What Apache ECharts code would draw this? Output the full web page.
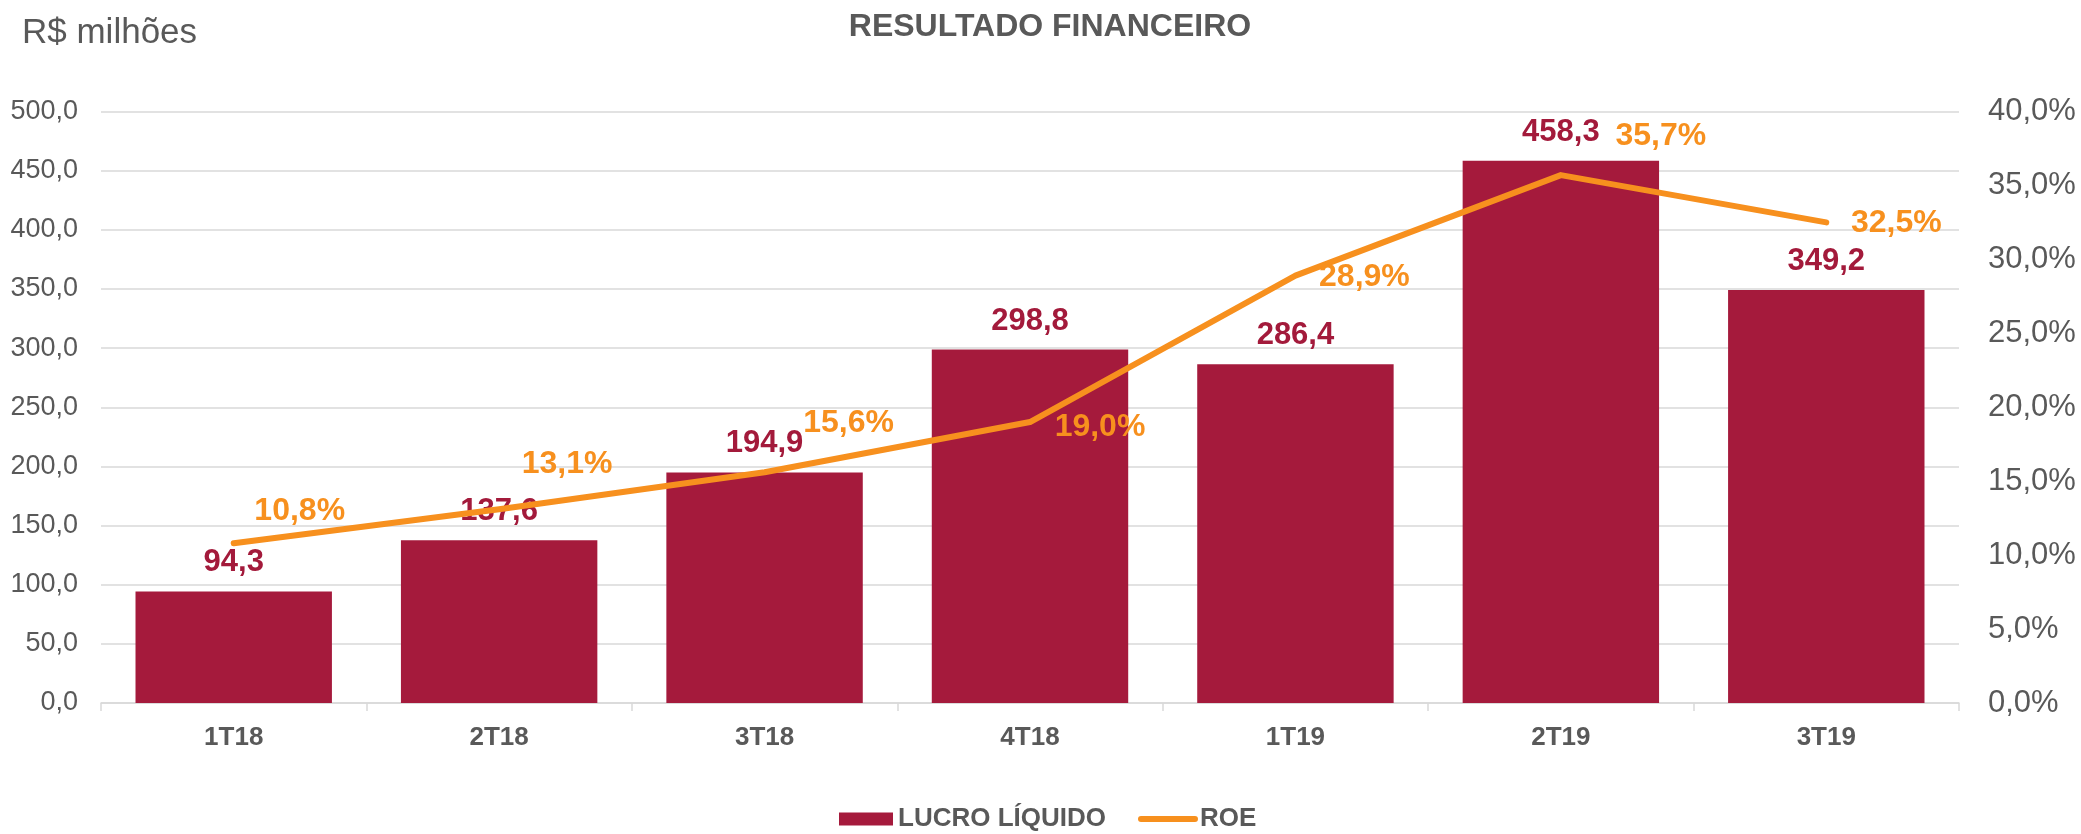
<!DOCTYPE html>
<html>
<head>
<meta charset="utf-8">
<title>Resultado Financeiro</title>
<script src="https://cdn.jsdelivr.net/npm/echarts@6.0.0/dist/echarts.min.js"></script>
<style>
  html, body { margin: 0; padding: 0; background: #ffffff; }
  #chart { width: 2081px; height: 834px; }
</style>
</head>
<body>
<div id="chart"></div>
<script>
// Quarterly net income (R$ millions) and ROE (%)
const categories = ['1T18', '2T18', '3T18', '4T18', '1T19', '2T19', '3T19'];
const lucroLiquido = [94.3, 137.6, 194.9, 298.8, 286.4, 458.3, 349.2];
const roe = [10.8, 13.1, 15.6, 19.0, 28.9, 35.7, 32.5];

// Label placement for the ROE points (pixel offset from each point)
const roeLabelOffsets = [[66, -32], [68, -45], [84, -49], [70, 5], [69, 2], [100, -39], [70, 1]];

const FONT = '"Liberation Sans", Arial, Helvetica, sans-serif';
const GRAY = '#595959';
const WINE = '#A51A3C';
const ORANGE = '#F7901E';
const GRID = '#d9d9d9';

const br = (v, d) => v.toFixed(d).replace('.', ',');

const chart = echarts.init(document.getElementById('chart'), null, { renderer: 'canvas' });

chart.setOption({
  animation: false,
  backgroundColor: '#ffffff',
  textStyle: { fontFamily: FONT },
  title: [
    {
      text: 'RESULTADO FINANCEIRO',
      left: 1045, top: 6, textAlign: 'center',
      textStyle: { fontFamily: FONT, fontSize: 32, fontWeight: 'bold', color: GRAY }
    },
    {
      text: 'R$ milhões',
      left: 17, top: 11,
      textStyle: { fontFamily: FONT, fontSize: 35, fontWeight: 'normal', color: GRAY }
    }
  ],
  legend: {
    left: 839,
    top: 806,
    padding: 0,
    itemGap: 32,
    itemWidth: 54,
    itemHeight: 13,
    textStyle: { fontFamily: FONT, fontSize: 26, fontWeight: 'bold', color: GRAY },
    data: [
      { name: 'LUCRO LÍQUIDO', icon: 'rect' },
      {
        name: 'ROE',
        itemStyle: { color: 'rgba(0,0,0,0)', borderWidth: 0, opacity: 0 },
        lineStyle: { width: 6, color: ORANGE, cap: 'round' }
      }
    ]
  },
  grid: { left: 101, right: 122, top: 111.5, bottom: 131 },
  xAxis: {
    type: 'category',
    data: categories,
    axisLine: { lineStyle: { color: GRID, width: 1.5 } },
    axisTick: { show: true, length: 8, lineStyle: { color: GRID, width: 1.5 } },
    axisLabel: { margin: 22, fontFamily: FONT, fontSize: 26, fontWeight: 'bold', color: GRAY }
  },
  yAxis: [
    {
      type: 'value',
      min: 0, max: 500, interval: 50,
      axisLine: { show: false },
      axisTick: { show: false },
      splitLine: { lineStyle: { color: GRID, width: 1.5 } },
      axisLabel: {
        margin: 23, fontFamily: FONT, fontSize: 27, color: GRAY,
        formatter: v => br(v, 1)
      }
    },
    {
      type: 'value',
      min: 0, max: 40, interval: 5,
      axisLine: { show: false },
      axisTick: { show: false },
      splitLine: { show: false },
      axisLabel: {
        margin: 29, fontFamily: FONT, fontSize: 31, color: GRAY,
        formatter: v => br(v, 1) + '%'
      }
    }
  ],
  series: [
    {
      name: 'LUCRO LÍQUIDO',
      type: 'bar',
      yAxisIndex: 0,
      data: lucroLiquido,
      barCategoryGap: '26%',
      itemStyle: { color: WINE },
      label: {
        show: true,
        position: 'top',
        distance: 13,
        fontFamily: FONT, fontSize: 31, fontWeight: 'bold', color: '#A31A3B',
        formatter: p => br(p.value, 1)
      },
      emphasis: { disabled: true }
    },
    {
      name: 'ROE',
      type: 'line',
      yAxisIndex: 1,
      z: 3,
      symbol: 'circle',
      symbolSize: 2,
      showSymbol: true,
      itemStyle: { color: ORANGE },
      lineStyle: { color: ORANGE, width: 6, cap: 'round', join: 'round' },
      data: roe.map((v, i) => ({
        value: v,
        label: { offset: roeLabelOffsets[i] }
      })),
      label: {
        show: true,
        position: 'inside',
        fontFamily: FONT, fontSize: 32, fontWeight: 'bold', color: ORANGE,
        formatter: p => br(p.value, 1) + '%'
      },
      emphasis: { disabled: true }
    }
  ]
});
</script>
</body>
</html>
